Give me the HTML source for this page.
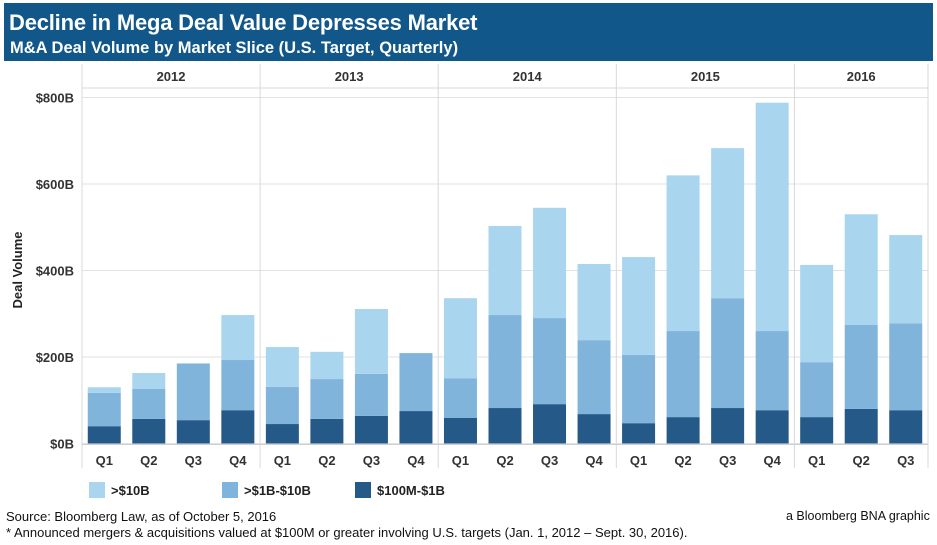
<!DOCTYPE html>
<html><head><meta charset="utf-8"><style>
body{margin:0;width:937px;height:545px;background:#fff;font-family:"Liberation Sans",Arial,sans-serif;overflow:hidden;position:relative}
#hdr{position:absolute;left:4px;top:3px;width:929px;height:58px;background:#115789;color:#fff}
#t1{position:absolute;left:5px;top:7px;font-size:22px;font-weight:bold;letter-spacing:-0.2px}
#t2{position:absolute;left:6px;top:36px;font-size:16.5px;font-weight:bold}
.f{position:absolute;font-size:13px;color:#111}
</style></head><body>
<div id="hdr">
<div id="t1">Decline in Mega Deal Value Depresses Market</div>
<div id="t2">M&amp;A Deal Volume by Market Slice (U.S. Target, Quarterly)</div>
</div>
<svg id="chart" width="937" height="545" style="position:absolute;left:0;top:0"></svg>
<div class="f" style="left:6px;top:509px">Source: Bloomberg Law, as of October 5, 2016</div>
<div class="f" style="left:6px;top:525px">* Announced mergers &amp; acquisitions valued at $100M or greater involving U.S. targets (Jan. 1, 2012 – Sept. 30, 2016).</div>
<div class="f" style="left:786px;top:509px;font-size:12.5px">a Bloomberg BNA graphic</div>
<script>
const years=["2012","2013","2014","2015","2016"];
const quartersPerYear=[4,4,4,4,3];
const qLabels=["Q1","Q2","Q3","Q4"];
const small=[40,57,54,77,45,57,64,75,59,82,91,68,47,61,82,77,61,80,77];
const mid=[77,69,130,116,86,92,97,134,92,215,199,171,158,199,254,183,127,194,201];
const large=[13,37,2,104,92,63,150,0,185,206,255,176,226,360,347,528,225,256,204];
const yTicks=[0,200,400,600,800];
const seriesNames=[">$10B",">$1B-$10B","$100M-$1B"];
const colors=["#a9d5ef","#80b4db","#245988"];
const svg=document.getElementById('chart');const NS="http://www.w3.org/2000/svg";
const X0=82,X1=928,Y0=443.5,Ymax=97.5,slot=(X1-X0)/19,bw=33;
const y=v=>Y0-(Y0-Ymax)*v/800;
const x=i=>X0+slot*i+slot/2;
function mk(t,a){const e=document.createElementNS(NS,t);for(const k in a)e.setAttribute(k,a[k]);svg.appendChild(e);return e;}
yTicks.forEach(v=>{const l=mk('line',{x1:X0,x2:X1,y1:y(v),y2:y(v),stroke:'#e2e2e2','stroke-width':1});


const t=mk('text',{x:74,y:y(v)+5,'text-anchor':'end','font-size':13,'font-weight':'bold',fill:'#333'});t.textContent='$'+v+'B';

});
mk('line',{x1:X0,x2:X1,y1:88,y2:88,stroke:'#d8d8d8'});
let idx=0;
years.forEach((yr,k)=>{const xs=X0+slot*idx,xe=X0+slot*(idx+quartersPerYear[k]);
const d=mk('line',{x1:xs,x2:xs,y1:64,y2:468,stroke:'#d8d8d8'});


const t=mk('text',{x:(xs+xe)/2,y:81,'text-anchor':'middle','font-size':13,'font-weight':'bold',fill:'#333'});t.textContent=yr;


for(let q=0;q<quartersPerYear[k];q++){const lt=mk('text',{x:x(idx+q),y:465,'text-anchor':'middle','font-size':13,'font-weight':'bold',fill:'#333'});lt.textContent=qLabels[q];

}
idx+=quartersPerYear[k];});
mk('line',{x1:X1,x2:X1,y1:64,y2:468,stroke:'#d8d8d8'});
mk('line',{x1:X0,x2:X1,y1:Y0+1,y2:Y0+1,stroke:'#cfcfcf'});
for(let i=0;i<19;i++){let base=0;
[[small[i],colors[2],'bar-100m-1b'],[mid[i],colors[1],'bar-1b-10b'],[large[i],colors[0],'bar-over-10b']].forEach(([v,c,n])=>{
if(v>0){const r=mk('rect',{x:x(i)-bw/2,y:y(base+v),width:bw,height:y(base)-y(base+v),fill:c});

}
base+=v;});}
const yt=mk('text',{x:0,y:0,transform:'translate(22,270) rotate(-90)','text-anchor':'middle','font-size':13,'font-weight':'bold',fill:'#222'});yt.textContent='Deal Volume';


const lx=[89,222,355];
seriesNames.forEach((s,i)=>{const r=mk('rect',{x:lx[i],y:482,width:16,height:16,fill:colors[i]});


const t=mk('text',{x:lx[i]+22,y:495,'font-size':13,'font-weight':'bold',fill:'#222'});t.textContent=s;

});
</script>
</body></html>
